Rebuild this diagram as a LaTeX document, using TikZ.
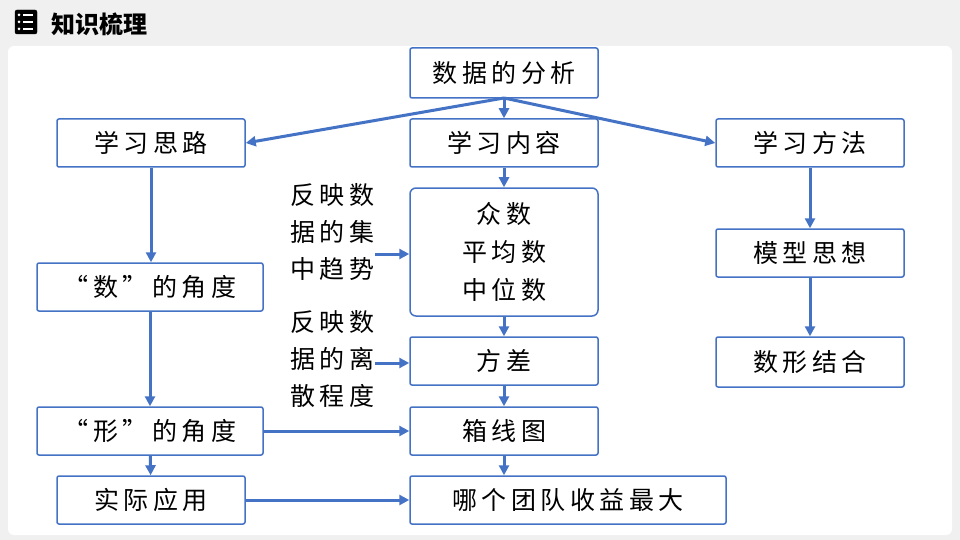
\documentclass[tikz,border=0pt]{standalone}
\usepackage{fontspec}
\setmainfont{Noto Sans CJK SC}
\newfontfamily\spf[LetterSpace=18]{Noto Sans CJK SC}
\usetikzlibrary{arrows.meta}
\definecolor{bl}{HTML}{4472C4}
\begin{document}
\begin{tikzpicture}[x=1pt,y=-1pt,
 bx/.style={draw=bl,line width=1.5pt,rounded corners=2pt,fill=white,font=\spf\fontsize{25}{30}\selectfont,align=center,inner sep=0pt},
 ar/.style={draw=bl,line width=3pt,-{Triangle[length=10pt,width=10pt]}},
 lb/.style={font=\spf\fontsize{25}{37}\selectfont,align=left,inner sep=0pt}]
\useasboundingbox (0,0) rectangle (960,540);
\fill[gray!12] (0,0) rectangle (960,540);
\fill[white,rounded corners=6pt] (8,46) rectangle (952,535);
\node[font=\fontsize{24}{28}\selectfont\bfseries,anchor=west] (hd) at (48,24) {知识梳理};
\node[draw=black,fill=black,rounded corners=2pt,minimum width=22pt,minimum height=24pt,inner sep=0pt] (ic) at (26,22) {};
\foreach \yy in {15,22,29}{\fill[white] (19,\yy) circle (1.5pt); \fill[white] (23,\yy-1) rectangle (33,\yy+1);}
\node[bx,minimum width=188pt,minimum height=50pt] (a) at (504,73) {数据的分析};
\node[bx,minimum width=188pt,minimum height=48pt] (b1) at (151,143) {学习思路};
\node[bx,minimum width=188pt,minimum height=48pt] (b2) at (504,143) {学习内容};
\node[bx,minimum width=188pt,minimum height=48pt] (b3) at (810,143) {学习方法};
\node[bx,minimum width=188pt,minimum height=128pt,rounded corners=6pt,font=\spf\fontsize{25}{38}\selectfont] (c) at (504,252) {众数\\平均数\\中位数};
\node[bx,minimum width=226pt,minimum height=48pt] (d) at (150,287) {“数”的角度};
\node[bx,minimum width=188pt,minimum height=48pt] (m) at (810,253) {模型思想};
\node[bx,minimum width=188pt,minimum height=48pt] (f) at (504,361) {方差};
\node[bx,minimum width=188pt,minimum height=50pt] (s) at (810,362) {数形结合};
\node[bx,minimum width=226pt,minimum height=48pt] (x) at (150,431) {“形”的角度};
\node[bx,minimum width=188pt,minimum height=48pt] (bo) at (504,431) {箱线图};
\node[bx,minimum width=188pt,minimum height=48pt] (p) at (151,500) {实际应用};
\node[bx,minimum width=316pt,minimum height=48pt] (q) at (568,500) {哪个团队收益最大};
\node[lb] (t1) at (332,232) {反映数\\据的集\\中趋势};
\node[lb] (t2) at (332,359) {反映数\\据的离\\散程度};
\coordinate (o) at (504,98);
\draw[ar] (o) -- (b1.east);
\draw[ar] (o) -- (b3.west);
\draw[ar] (o) -- (b2.north);
\draw[ar] (b2) -- (c);
\draw[ar] (c) -- (f);
\draw[ar] (f) -- (bo);
\draw[ar] (bo.south) -- (q.north -| bo.south);
\draw[ar] (b3) -- (m);
\draw[ar] (m) -- (s);
\draw[ar] (b1) -- (d.north -| b1.south);
\draw[ar] (d) -- (x);
\draw[ar] (x) -- (p);
\draw[ar] (x) -- (bo);
\draw[ar] (p) -- (q);
\draw[ar] (375,254) -- (c.west |- 0,254);
\draw[ar] (375,363) -- (f.west |- 0,363);
\end{tikzpicture}
\end{document}
